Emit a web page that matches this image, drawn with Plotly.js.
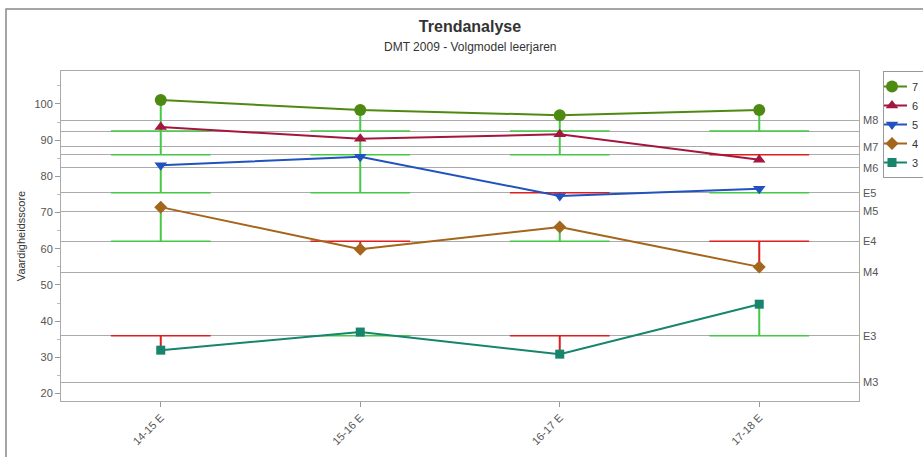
<!DOCTYPE html>
<html>
<head>
<meta charset="utf-8">
<script src="https://cdn.plot.ly/plotly-3.0.1.min.js"></script>
<style>html,body{margin:0;padding:0;background:#fff;}#chart{width:923px;height:457px;}</style>
</head>
<body>
<div id="chart"></div>
<script>
// ---- data ----
const categories = ['14-15 E', '15-16 E', '16-17 E', '17-18 E'];
const seriesNames = ['7', '6', '5', '4', '3'];
const scores7 = [101.1, 98.3, 96.9, 98.3];
const scores6 = [93.6, 90.4, 91.6, 84.6];
const scores5 = [83.1, 85.4, 74.6, 76.6];
const scores4 = [71.5, 59.9, 66.0, 55.0];
const scores3 = [32.0, 37.0, 30.9, 44.7];
// reference (E) level each series is compared with: E7, E6, E5, E4, E3
const referenceLevels = [92.5, 86.0, 75.5, 62.1, 36.0];
// norm lines on the right-hand axis
const normLevels = [95.4, 92.5, 88.2, 86.0, 82.4, 75.5, 70.3, 62.1, 53.5, 36.0, 23.1];
const normLabels = ['M8', '', 'M7', '', 'M6', 'E5', 'M5', 'E4', 'M4', 'E3', 'M3'];
const yTicks = [20, 30, 40, 50, 60, 70, 80, 90, 100];

// ---- styling ----
const allScores = [scores7, scores6, scores5, scores4, scores3];
const lineColors = ['#4e8a12', '#a3173e', '#2152be', '#a4651c', '#16856b'];
const symbols = ['circle', 'triangle-up', 'triangle-down', 'diamond', 'square'];
const symSizes = [12, 11, 11, 10, 9];
const GOOD = '#45c845', BAD = '#dd1f1f';
const HALF = 0.25;

const W = 923, H = 457, ML = 61, MR = 64, MT = 71, MB = 56;
const PW = W - ML - MR, PH = H - MT - MB;
const px2x = p => (p - ML) / PW;
const px2y = p => (H - MB - p) / PH;

const xIdx = categories.map((c, i) => i);
const traces = [];

// reference segments (horizontal at the E level, vertical up/down to the score)
const seg = {good: {hx: [], hy: [], vx: [], vy: []}, bad: {hx: [], hy: [], vx: [], vy: []}};
allScores.forEach((vals, s) => {
  const ref = referenceLevels[s];
  vals.forEach((v, i) => {
    const g = v >= ref ? seg.good : seg.bad;
    g.hx.push(i - HALF, i + HALF, null); g.hy.push(ref, ref, null);
    g.vx.push(i, i, null); g.vy.push(ref, v, null);
  });
});
[['good', GOOD], ['bad', BAD]].forEach(([k, col]) => {
  traces.push({x: seg[k].hx, y: seg[k].hy, mode: 'lines', line: {color: col, width: 1.5},
    showlegend: false, hoverinfo: 'skip', connectgaps: false});
  traces.push({x: seg[k].vx, y: seg[k].vy, mode: 'lines', line: {color: col, width: 2},
    showlegend: false, hoverinfo: 'skip', connectgaps: false});
});

// dummy trace for right axis with norm lines
traces.push({x: normLevels.map(() => 0), y: normLevels, yaxis: 'y2', mode: 'markers',
  marker: {opacity: 0}, showlegend: false, hoverinfo: 'skip'});

// score series
allScores.forEach((vals, s) => {
  traces.push({
    x: xIdx, y: vals, name: seriesNames[s], mode: 'lines+markers',
    line: {color: lineColors[s], width: 2},
    marker: {symbol: symbols[s], size: symSizes[s], color: lineColors[s]},
    hoverinfo: 'skip'
  });
});

const yRange = [17.96, 109.1];
const font = 'Arial, "Liberation Sans", sans-serif';

const layout = {
  width: W, height: H,
  margin: {l: ML, r: MR, t: MT, b: MB, pad: 0, autoexpand: false},
  paper_bgcolor: '#fff', plot_bgcolor: '#fff',
  font: {family: font, color: '#555', size: 11},
  title: {text: '<b>Trendanalyse</b>', x: 470 / W, xanchor: 'center',
    yref: 'container', y: 1 - 26 / H, yanchor: 'middle', font: {size: 16, color: '#333', family: font}},
  annotations: [{text: 'DMT 2009 - Volgmodel leerjaren', xref: 'paper', yref: 'paper',
    x: px2x(470), y: px2y(47.5), xanchor: 'center', yanchor: 'middle', showarrow: false,
    font: {size: 12, color: '#333', family: font}}],
  xaxis: {
    range: [-0.5, 3.5], tickvals: xIdx, ticktext: categories, tickangle: -45,
    ticks: 'outside', ticklen: 5, tickcolor: '#999', showgrid: false, zeroline: false,
    showline: true, linecolor: '#aaa', linewidth: 1, mirror: true,
    tickfont: {size: 11, color: '#555'}
  },
  yaxis: {
    range: yRange, tickvals: yTicks, ticks: 'outside', ticklen: 5, tickcolor: '#999',
    minor: {dtick: 5, tick0: 0, ticks: 'outside', ticklen: 3, tickcolor: '#bbb', showgrid: false},
    showgrid: false, zeroline: false, showline: true, linecolor: '#aaa', linewidth: 1, mirror: true,
    tickfont: {size: 11, color: '#555'},
    title: {text: 'Vaardigheidsscore', standoff: 6, font: {size: 11, color: '#333'}}
  },
  yaxis2: {
    overlaying: 'y', side: 'right', range: yRange, tickvals: normLevels, ticktext: normLabels,
    ticks: '', showgrid: true, gridcolor: '#ababab', gridwidth: 1, zeroline: false, showline: false,
    tickfont: {size: 11, color: '#555'}, ticklabelstandoff: 3
  },
  legend: {
    xref: 'container', yref: 'container',
    x: 883 / W, y: 1 - 71 / H, xanchor: 'left', yanchor: 'top', bgcolor: '#fff',
    bordercolor: '#999', borderwidth: 1, font: {size: 11, color: '#333', family: font},
    indentation: -12, tracegroupgap: 0
  },
  shapes: [{type: 'rect', xref: 'paper', yref: 'paper', x0: px2x(6), x1: px2x(940),
    y0: px2y(470), y1: px2y(9), line: {color: '#888', width: 1.5}, fillcolor: 'rgba(0,0,0,0)', layer: 'below'}],
  showlegend: true
};

Plotly.newPlot('chart', traces, layout, {staticPlot: true, displayModeBar: false});
</script>
</body>
</html>
